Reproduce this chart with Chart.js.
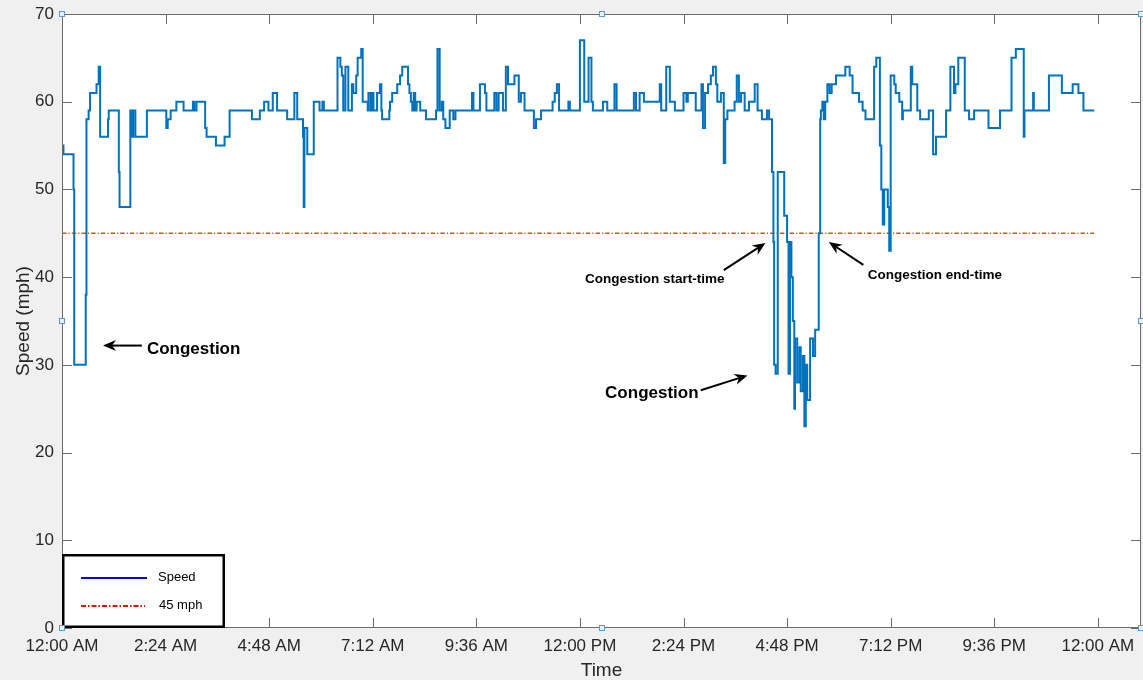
<!DOCTYPE html>
<html>
<head>
<meta charset="utf-8">
<title>Speed vs Time</title>
<script src="https://cdn.jsdelivr.net/npm/chart.js@4"></script>
<style>
  html, body { margin: 0; padding: 0; background: #f0f0f0; }
  #wrap { width: 1143px; height: 680px; }
</style>
</head>
<body>
<div id="wrap"><canvas id="speedChart" width="1143" height="680"></canvas></div>
<script>
// time in minutes after midnight, speed in mph (value holds until next point)
const timeMin = [
  0, 2, 16, 17, 33, 34, 37, 39, 48, 51, 53, 64, 65, 79, 80, 95, 97, 99, 102, 118,
  145, 147, 151, 159, 169, 182, 184, 187, 199, 201, 214, 226, 233, 264, 275, 281, 287, 293, 299, 313,
  323, 327, 335, 336, 337, 341, 350, 358, 362, 364, 383, 387, 389, 391, 394, 398, 403, 405, 409, 411,
  416, 418, 425, 426, 429, 431, 433, 438, 442, 444, 445, 455, 456, 459, 466, 470, 473, 481, 483, 485,
  487, 489, 491, 493, 498, 506, 520, 522, 525, 528, 530, 533, 539, 544, 547, 570, 572, 581, 588, 590,
  601, 604, 607, 613, 617, 620, 629, 635, 638, 643, 656, 659, 666, 682, 685, 688, 691, 704, 706, 720,
  726, 732, 736, 738, 752, 758, 768, 771, 795, 798, 803, 809, 831, 833, 840, 845, 852, 864, 868, 870,
  881, 889, 891, 894, 898, 902, 905, 909, 911, 916, 920, 922, 925, 935, 938, 941, 944, 949, 955, 963,
  967, 973, 980, 983, 987, 989, 990, 992, 995, 1004, 1008, 1010, 1012, 1014, 1016, 1018, 1019, 1022, 1025, 1027,
  1030, 1032, 1034, 1036, 1040, 1044, 1047, 1052, 1054, 1055, 1057, 1059, 1061, 1064, 1067, 1070, 1076, 1089, 1095, 1099,
  1108, 1113, 1117, 1129, 1132, 1137, 1139, 1141, 1143, 1148, 1150, 1152, 1157, 1159, 1164, 1168, 1169, 1180, 1182, 1189,
  1193, 1205, 1211, 1215, 1229, 1235, 1240, 1242, 1246, 1255, 1261, 1268, 1288, 1304, 1320, 1326, 1337, 1338, 1350, 1351,
  1372, 1390, 1405, 1413, 1420, 1435
];
const speedMph = [
  55, 54, 50, 30, 38, 58, 59, 61, 62, 64, 56, 58, 59, 52, 48, 59, 56, 59, 56, 59,
  57, 58, 59, 60, 59, 60, 59, 60, 57, 56, 55, 56, 59, 58, 59, 60, 59, 61, 59, 58,
  61, 58, 56, 48, 57, 54, 60, 59, 60, 59, 65, 64, 63, 59, 64, 59, 62, 61, 63, 65,
  66, 60, 59, 61, 59, 61, 59, 61, 62, 59, 58, 59, 60, 61, 62, 63, 64, 62, 61, 60,
  59, 61, 59, 60, 59, 58, 59, 66, 59, 60, 58, 57, 59, 58, 59, 61, 59, 62, 61, 59,
  61, 59, 61, 59, 64, 62, 63, 60, 61, 59, 57, 58, 59, 60, 61, 62, 59, 60, 59, 67,
  60, 65, 60, 59, 60, 59, 62, 59, 61, 59, 61, 60, 62, 59, 64, 60, 59, 61, 60, 61,
  59, 62, 57, 61, 62, 63, 64, 62, 60, 61, 53, 58, 59, 60, 63, 60, 61, 59, 60, 62,
  59, 58, 59, 58, 52, 44, 30, 29, 52, 47, 44, 29, 44, 40, 35, 25, 33, 28, 32, 27,
  31, 23, 30, 26, 33, 31, 34, 45, 58, 59, 60, 58, 60, 62, 61, 62, 63, 64, 63, 61,
  60, 59, 58, 64, 65, 55, 50, 46, 50, 48, 43, 63, 62, 61, 60, 58, 59, 64, 62, 59,
  58, 59, 54, 56, 59, 64, 61, 62, 65, 59, 58, 59, 57, 59, 65, 66, 56, 59, 61, 59,
  63, 61, 62, 61, 59, 59
];
const thresholdTime = [0, 1435];
const thresholdSpeed = [45, 45];

const xTickValues = [0, 144, 288, 432, 576, 720, 864, 1008, 1152, 1296, 1440];
const xTickLabels = ['12:00 AM', '2:24 AM', '4:48 AM', '7:12 AM', '9:36 AM', '12:00 PM',
  '2:24 PM', '4:48 PM', '7:12 PM', '9:36 PM', '12:00 AM'];

const legendLabels = ['Speed', '45 mph'];

// notes: text anchor and arrow tail/head, all in (minutes, mph)
const notes = [
  { text: 'Congestion', size: 17, align: 'left', at: [118, 31.8], tail: [111, 32.2], head: [57, 32.2] },
  { text: 'Congestion', size: 17, align: 'left', at: [755, 26.8], tail: [888, 27.1], head: [953, 28.8] },
  { text: 'Congestion start-time', size: 13.5, align: 'right', at: [921, 39.8], tail: [920, 40.8], head: [978, 43.9] },
  { text: 'Congestion end-time', size: 13.5, align: 'left', at: [1120, 40.2], tail: [1114, 41.4], head: [1066, 44.0] }
];

const FONT = '"Liberation Sans", Arial, Helvetica, sans-serif';
const AXIS_COLOR = '#262626';

function drawArrow(ctx, x1, y1, x2, y2) {
  const ang = Math.atan2(y2 - y1, x2 - x1);
  const len = 13, half = 5.5, back = 9;
  ctx.save();
  ctx.strokeStyle = '#000';
  ctx.fillStyle = '#000';
  ctx.lineWidth = 2;
  ctx.beginPath();
  ctx.moveTo(x1, y1);
  ctx.lineTo(x2 - Math.cos(ang) * back, y2 - Math.sin(ang) * back);
  ctx.stroke();
  ctx.translate(x2, y2);
  ctx.rotate(ang);
  ctx.beginPath();
  ctx.moveTo(0, 0);
  ctx.lineTo(-len, -half);
  ctx.lineTo(-back, 0);
  ctx.lineTo(-len, half);
  ctx.closePath();
  ctx.fill();
  ctx.restore();
}

const matlabLook = {
  id: 'matlabLook',
  beforeDraw(chart) {
    const { ctx, chartArea: a } = chart;
    ctx.save();
    ctx.fillStyle = '#ffffff';
    ctx.fillRect(a.left, a.top, a.right - a.left, a.bottom - a.top);
    ctx.restore();
  },
  afterDraw(chart) {
    const { ctx, chartArea: a, scales } = chart;
    const xs = scales.x, ys = scales.y;
    ctx.save();
    // frame
    ctx.strokeStyle = '#6b6b6b';
    ctx.lineWidth = 1;
    ctx.strokeRect(a.left + 0.5, a.top + 0.5, a.right - a.left - 1, a.bottom - a.top - 1);
    // inward ticks
    ctx.beginPath();
    xTickValues.forEach(v => {
      const px = Math.round(xs.getPixelForValue(v)) + 0.5;
      ctx.moveTo(px, a.bottom); ctx.lineTo(px, a.bottom - 10);
      ctx.moveTo(px, a.top); ctx.lineTo(px, a.top + 10);
    });
    ys.ticks.forEach(t => {
      const py = Math.round(ys.getPixelForValue(t.value)) + 0.5;
      ctx.moveTo(a.left, py); ctx.lineTo(a.left + 10, py);
      ctx.moveTo(a.right, py); ctx.lineTo(a.right - 10, py);
    });
    ctx.stroke();

    // annotations
    notes.forEach(n => {
      drawArrow(ctx,
        xs.getPixelForValue(n.tail[0]), ys.getPixelForValue(n.tail[1]),
        xs.getPixelForValue(n.head[0]), ys.getPixelForValue(n.head[1]));
      ctx.fillStyle = '#000';
      ctx.font = 'bold ' + n.size + 'px ' + FONT;
      ctx.textAlign = n.align;
      ctx.textBaseline = 'middle';
      ctx.fillText(n.text, xs.getPixelForValue(n.at[0]), ys.getPixelForValue(n.at[1]));
    });

    // legend box
    const lx = a.left, lw = 163, lh = 74, ly = a.bottom - lh;
    ctx.fillStyle = '#ffffff';
    ctx.fillRect(lx, ly, lw, lh);
    ctx.strokeStyle = '#000';
    ctx.lineWidth = 2.5;
    ctx.strokeRect(lx + 1.25, ly + 1.25, lw - 2.5, lh - 2.5);
    ctx.lineWidth = 2;
    ctx.strokeStyle = '#0000ff';
    ctx.beginPath(); ctx.moveTo(lx + 19, ly + 24); ctx.lineTo(lx + 85, ly + 24); ctx.stroke();
    ctx.strokeStyle = '#ff0000';
    ctx.setLineDash([5, 2, 1.5, 2]);
    ctx.beginPath(); ctx.moveTo(lx + 19, ly + 52); ctx.lineTo(lx + 83, ly + 52); ctx.stroke();
    ctx.setLineDash([]);
    ctx.fillStyle = '#000';
    ctx.font = '13px ' + FONT;
    ctx.textAlign = 'left';
    ctx.textBaseline = 'middle';
    ctx.fillText(legendLabels[0], lx + 96, ly + 23);
    ctx.fillText(legendLabels[1], lx + 97, ly + 51);

    // figure edit handles
    const mx = (a.left + a.right) / 2, my = (a.top + a.bottom) / 2;
    const handles = [[a.left, a.top], [mx, a.top], [a.right, a.top], [a.left, my],
      [a.right, my], [a.left, a.bottom], [mx, a.bottom], [a.right, a.bottom]];
    ctx.lineWidth = 1;
    handles.forEach(([hx, hy]) => {
      ctx.fillStyle = '#e8f1fb';
      ctx.strokeStyle = '#5b9bd5';
      ctx.fillRect(Math.round(hx) - 2, Math.round(hy) - 2, 4, 4);
      ctx.strokeRect(Math.round(hx) - 2.5, Math.round(hy) - 2.5, 5, 5);
    });
    ctx.restore();
  }
};

new Chart(document.getElementById('speedChart'), {
  type: 'line',
  data: {
    datasets: [
      {
        label: 'Speed',
        data: timeMin.map((t, i) => ({ x: t, y: speedMph[i] })),
        borderColor: '#0072BD',
        borderWidth: 2,
        stepped: true,
        pointRadius: 0,
        fill: false
      },
      {
        label: '45 mph',
        data: thresholdTime.map((t, i) => ({ x: t, y: thresholdSpeed[i] })),
        borderColor: '#D95319',
        borderWidth: 1.5,
        borderDash: [4.5, 2, 1.2, 2],
        pointRadius: 0,
        fill: false
      }
    ]
  },
  options: {
    responsive: false,
    animation: false,
    devicePixelRatio: 1,
    layout: { padding: { top: 14, right: 2, left: 0, bottom: 0 } },
    plugins: { legend: { display: false }, tooltip: { enabled: false } },
    scales: {
      x: {
        type: 'linear',
        min: 0,
        max: 1500,
        grid: { display: false, drawTicks: false },
        border: { display: false },
        afterBuildTicks: s => { s.ticks = xTickValues.map(v => ({ value: v })); },
        afterFit: s => { s.height = 52; s.paddingLeft = 0; s.paddingRight = 0; },
        ticks: {
          autoSkip: false,
          maxRotation: 0,
          padding: 8,
          color: AXIS_COLOR,
          font: { family: FONT, size: 17 },
          callback: v => xTickLabels[xTickValues.indexOf(v)]
        },
        title: {
          display: true,
          text: 'Time',
          color: AXIS_COLOR,
          font: { family: FONT, size: 19, lineHeight: 1 },
          padding: { top: 0, bottom: 0 }
        }
      },
      y: {
        min: 0,
        max: 70,
        grid: { display: false, drawTicks: false },
        border: { display: false },
        afterFit: s => { s.width = 62; s.paddingTop = 0; s.paddingBottom = 0; },
        ticks: {
          stepSize: 10,
          padding: 8,
          color: AXIS_COLOR,
          font: { family: FONT, size: 17 }
        },
        title: {
          display: true,
          text: 'Speed (mph)',
          color: AXIS_COLOR,
          font: { family: FONT, size: 19 },
          padding: { top: 12, bottom: 0 }
        }
      }
    }
  },
  plugins: [matlabLook]
});
</script>
</body>
</html>
